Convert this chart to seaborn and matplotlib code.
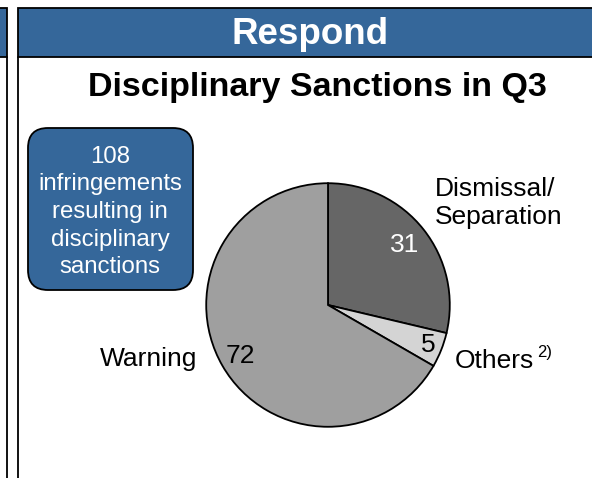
import matplotlib
matplotlib.use("Agg")
import matplotlib.pyplot as plt
from matplotlib.patches import Rectangle, FancyBboxPatch
import numpy as np
import seaborn as sns

# ---- data ----
categories = ["Dismissal/\nSeparation", "Others", "Warning"]
values = [31, 5, 72]
slice_colors = ["#666666", "#d4d4d4", "#9f9f9f"]
value_text_colors = ["white", "black", "black"]
value_dist = [0.80, 0.89, 0.83]
header_title = "Respond"
chart_title = "Disciplinary Sanctions in Q3"
box_text = "108\ninfringements\nresulting in\ndisciplinary\nsanctions"

sns.set_theme(style="white")
plt.rcParams["font.family"] = ["Liberation Sans", "DejaVu Sans"]
plt.rcParams["text.color"] = "black"

W, H = 592, 478
fig = plt.figure(figsize=(W / 100, H / 100), dpi=100)
fig.patch.set_facecolor("white")

bg = fig.add_axes([0, 0, 1, 1])
bg.set_xlim(0, W)
bg.set_ylim(H, 0)
bg.axis("off")

blue = "#35679A"
lw = 1.3
# left partial panel
bg.add_patch(Rectangle((-5, 7.5), 11.5, 49.5, facecolor=blue, edgecolor="black", lw=lw))
bg.plot([6.5, 6.5], [57, H + 5], color="black", lw=lw)
# main panel
bg.add_patch(Rectangle((18, 7.5), 600, 49.5, facecolor=blue, edgecolor="black", lw=lw))
bg.plot([18, 18], [57, H + 5], color="black", lw=lw)
bg.text(310, 34, header_title, color="white", fontsize=26.5, fontweight="bold",
        ha="center", va="center")
bg.text(317, 87.5, chart_title, color="black", fontsize=24.5, fontweight="bold",
        ha="center", va="center")

# info box
box = FancyBboxPatch((28 + 20, 128 + 20), 165 - 40, 162 - 40,
                     boxstyle="round,pad=20", facecolor=blue, edgecolor="black", lw=lw)
bg.add_patch(box)
bg.text(110, 212, box_text, color="white", fontsize=17.3, ha="center", va="center",
        linespacing=1.33)

# pie
cx, cy, r = 328, 305, 123
pax = fig.add_axes([(cx - r) / W, (H - cy - r) / H, 2 * r / W, 2 * r / H])
wedges, _ = pax.pie(values, colors=slice_colors, startangle=90, counterclock=False,
                    wedgeprops=dict(edgecolor="black", linewidth=1.3))
pax.set_xlim(-1.01, 1.01)
pax.set_ylim(-1.01, 1.01)
pax.set_aspect("equal")
for w, v, c, d in zip(wedges, values, value_text_colors, value_dist):
    ang = np.deg2rad((w.theta1 + w.theta2) / 2)
    pax.text(d * np.cos(ang), d * np.sin(ang), str(v), color=c, fontsize=19,
             ha="center", va="center")

# category labels
bg.text(435, 203, categories[0], color="black", fontsize=19, ha="left", va="center",
        linespacing=1.19)
bg.text(455, 361, categories[1], color="black", fontsize=19, ha="left", va="center")
bg.text(537, 353, "2)", color="black", fontsize=12, ha="left", va="center")
bg.text(197, 359, categories[2], color="black", fontsize=19, ha="right", va="center")

fig.savefig("out.png", dpi=100)
